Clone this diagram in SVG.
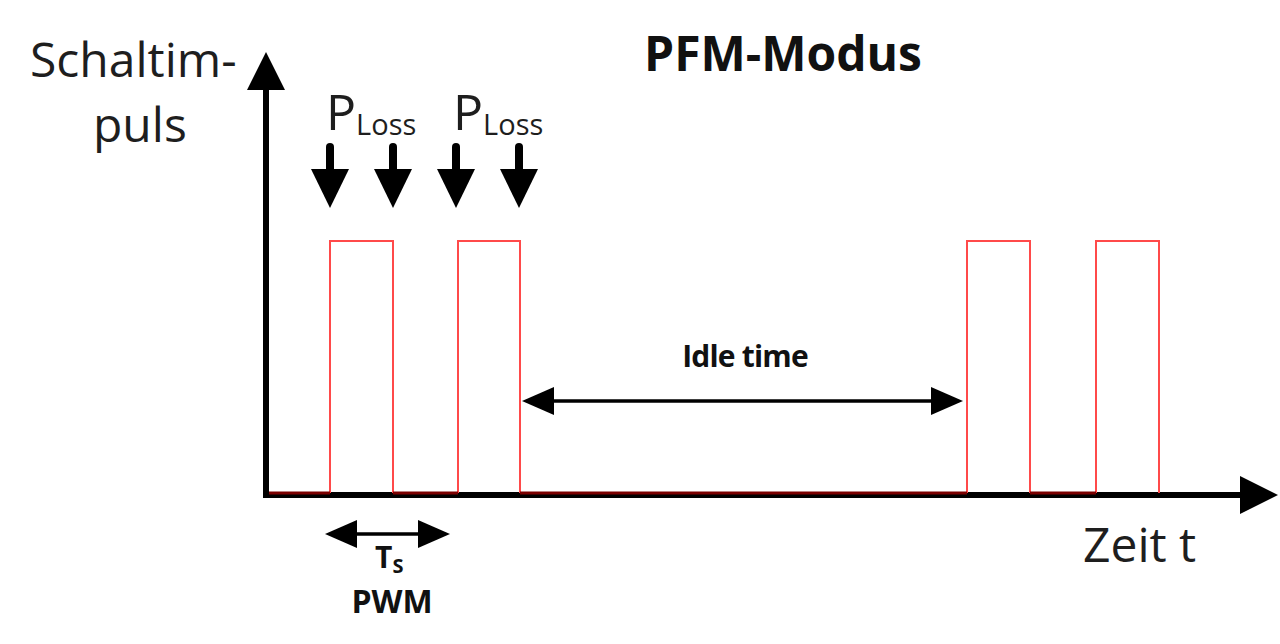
<svg xmlns="http://www.w3.org/2000/svg" width="1280" height="644" viewBox="0 0 1280 644">
<style>
.t{font-family:"Open Sans","DejaVu Sans",sans-serif;fill:#1e1e1e}
.b{font-weight:bold;fill:#111}
.ax{stroke:#000;stroke-width:6;fill:none}
.pulse{stroke:#ff4a4a;stroke-width:2;fill:none}
.low{stroke:#7a0000;stroke-width:3;fill:none}
.dim{stroke:#000;stroke-width:3.5;fill:none}
.head{fill:#000}
</style>
<rect width="1280" height="644" fill="#fff"/>
<g id="title"><text class="t b" x="783" y="71" font-size="48" text-anchor="middle">PFM-Modus</text></g>
<g id="ylabel">
<text class="t" x="30" y="77" font-size="48">Schaltim-</text>
<text class="t" x="93" y="142" font-size="48">puls</text>
</g>
<g id="xlabel"><text class="t" x="1083" y="562" font-size="48">Zeit t</text></g>
<g id="axes">
<path class="ax" d="M266,88 L266,495 L1242,495"/>
<polygon class="head" points="266,52 247,90 285,90"/>
<polygon class="head" points="1278,495 1240,476 1240,514"/>
</g>
<g id="waveform">
<path class="pulse" d="M330,493 V241 H393 V493 M458,493 V241 H520 V493 M967,493 V241 H1030 V493 M1096,493 V241 H1159 V493"/>
<path class="low" d="M269,493 H330 M393,493 H458 M520,493 H967 M1030,493 H1096"/>
</g>
<g id="ploss1">
<text class="t" x="326" y="130" font-size="50">P<tspan font-size="29" dy="5">Loss</tspan></text>
</g>
<g id="ploss2">
<text class="t" x="453" y="130" font-size="50">P<tspan font-size="29" dy="5">Loss</tspan></text>
</g>
<g id="loss-arrows">
<g stroke="#000" stroke-width="8" stroke-linecap="round">
<line x1="330" y1="147" x2="330" y2="172"/>
<line x1="393" y1="147" x2="393" y2="172"/>
<line x1="456" y1="147" x2="456" y2="172"/>
<line x1="519" y1="147" x2="519" y2="172"/>
</g>
<polygon class="head" points="311,169 349,169 330,208"/>
<polygon class="head" points="374,169 412,169 393,208"/>
<polygon class="head" points="437,169 475,169 456,208"/>
<polygon class="head" points="500,169 538,169 519,208"/>
</g>
<g id="idle">
<text class="t b" x="745" y="367" font-size="30" text-anchor="middle" letter-spacing="-0.8">Idle time</text>
<line class="dim" x1="545" y1="401" x2="940" y2="401"/>
<polygon class="head" points="522,401 554,387 554,415"/>
<polygon class="head" points="963,401 931,387 931,415"/>
</g>
<g id="ts">
<line class="dim" x1="345" y1="534" x2="430" y2="534"/>
<polygon class="head" points="325,534 357,520 357,548"/>
<polygon class="head" points="450,534 418,520 418,548"/>
<text class="t b" x="375" y="568" font-size="30">T<tspan font-size="20" dy="5">S</tspan></text>
<text class="t b" x="392" y="613" font-size="32" text-anchor="middle">PWM</text>
</g>
</svg>
